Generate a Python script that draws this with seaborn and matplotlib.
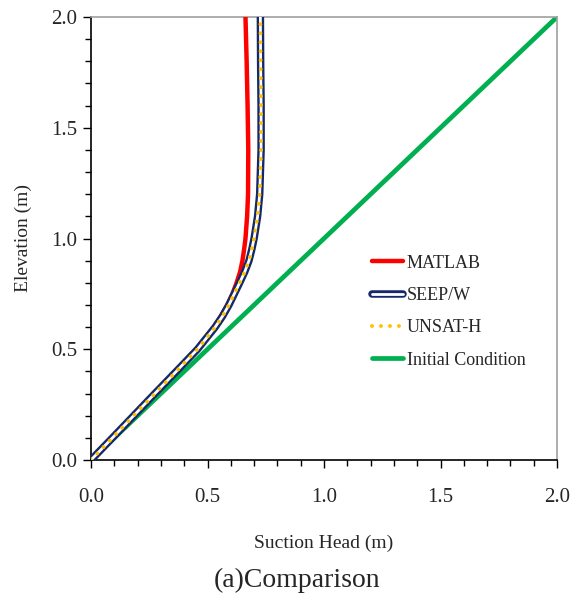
import numpy as np
import pandas as pd
import matplotlib
matplotlib.use("Agg")
import matplotlib.pyplot as plt
import matplotlib.patheffects as pe
from matplotlib.ticker import MultipleLocator, FormatStrFormatter
import seaborn as sns

# ---- data ----
elev = [0.0, 0.1, 0.2, 0.3, 0.4, 0.5, 0.6, 0.65, 0.7, 0.75, 0.8, 0.85, 0.9, 0.95, 1.0, 1.1, 1.2, 1.4, 1.6, 1.8, 2.0]
matlab = [0.0, 0.09, 0.18, 0.27, 0.362, 0.452, 0.527, 0.558, 0.585, 0.607, 0.625, 0.64, 0.65, 0.657, 0.663, 0.67, 0.674, 0.675, 0.672, 0.668, 0.663]
seepw = [0.0, 0.092, 0.183, 0.274, 0.366, 0.457, 0.533, 0.565, 0.592, 0.615, 0.638, 0.66, 0.678, 0.69, 0.70, 0.715, 0.724, 0.73, 0.73, 0.728, 0.727]
unsath = [0.0, 0.092, 0.183, 0.274, 0.366, 0.457, 0.533, 0.565, 0.592, 0.615, 0.638, 0.66, 0.678, 0.69, 0.70, 0.715, 0.724, 0.73, 0.73, 0.728, 0.727]
init_elev = [0.0, 2.0]
init_suction = [0.0, 2.0]

sns.set_theme(style="white")
plt.rcParams['font.family'] = ['Liberation Serif', 'DejaVu Serif']

fig = plt.figure(figsize=(5.75, 6.03), dpi=100)
ax = fig.add_axes([91/575, 1-460/603, (557-91)/575, (460-17)/603])

df_m = pd.DataFrame({"x": matlab, "y": elev})
df_s = pd.DataFrame({"x": seepw, "y": elev})
df_u = pd.DataFrame({"x": unsath, "y": elev})
df_i = pd.DataFrame({"x": init_suction, "y": init_elev})

dot_style = (0, (0.01, 2.3))

sns.lineplot(data=df_m, x="x", y="y", sort=False, estimator=None, ax=ax,
             color="#ff0000", lw=3.2, label="MATLAB", zorder=3)
sns.lineplot(data=df_s, x="x", y="y", sort=False, estimator=None, ax=ax,
             color="white", lw=2.0, label="SEEP/W", zorder=4,
             path_effects=[pe.Stroke(linewidth=5.4, foreground="#14286a"), pe.Normal()])
sns.lineplot(data=df_u, x="x", y="y", sort=False, estimator=None, ax=ax,
             color="#ffc000", lw=2.8, label="UNSAT-H", zorder=5)
uline = ax.lines[-1]
uline.set_linestyle(dot_style)
uline.set_dash_capstyle("round")
sns.lineplot(data=df_i, x="x", y="y", sort=False, estimator=None, ax=ax,
             color="#00b050", lw=3.4, label="Initial Condition", zorder=2)

ax.set_xlim(0, 2.0)
ax.set_ylim(0, 2.0)
ax.xaxis.set_major_locator(MultipleLocator(0.5))
ax.xaxis.set_minor_locator(MultipleLocator(0.1))
ax.yaxis.set_major_locator(MultipleLocator(0.5))
ax.yaxis.set_minor_locator(MultipleLocator(0.1))
ax.xaxis.set_major_formatter(FormatStrFormatter("%.1f"))
ax.yaxis.set_major_formatter(FormatStrFormatter("%.1f"))
ax.tick_params(axis="both", which="major", direction="out", length=6, width=1.0,
               color="black", labelsize=15, bottom=True, left=True, top=False, right=False)
ax.tick_params(axis="both", which="minor", direction="out", length=4, width=1.0,
               color="black", bottom=True, left=True, top=False, right=False)
ax.tick_params(axis="x", which="major", pad=14)
ax.tick_params(axis="y", which="major", pad=4)

for side in ["left", "bottom"]:
    ax.spines[side].set_color("black")
    ax.spines[side].set_linewidth(1.2)
for side in ["top", "right"]:
    ax.spines[side].set_color("#a0a0a0")
    ax.spines[side].set_linewidth(1.2)

ax.set_xlabel("Suction Head (m)", fontsize=14, labelpad=20)
ax.set_ylabel("Elevation (m)", fontsize=14, labelpad=14)

leg = ax.legend(loc="upper left", bbox_to_anchor=(0.588, 0.480), frameon=False,
                fontsize=13, handlelength=1.72, handletextpad=0.2, labelspacing=0.85,
                borderaxespad=0)
for h in leg.get_lines():
    if h.get_label() == "UNSAT-H":
        h.set_linestyle(dot_style)
        h.set_dash_capstyle("round")

fig.text(297/575, 1-580/603, "(a)Comparison", ha="center", va="center", fontsize=20)

fig.savefig("out.png", dpi=100)
